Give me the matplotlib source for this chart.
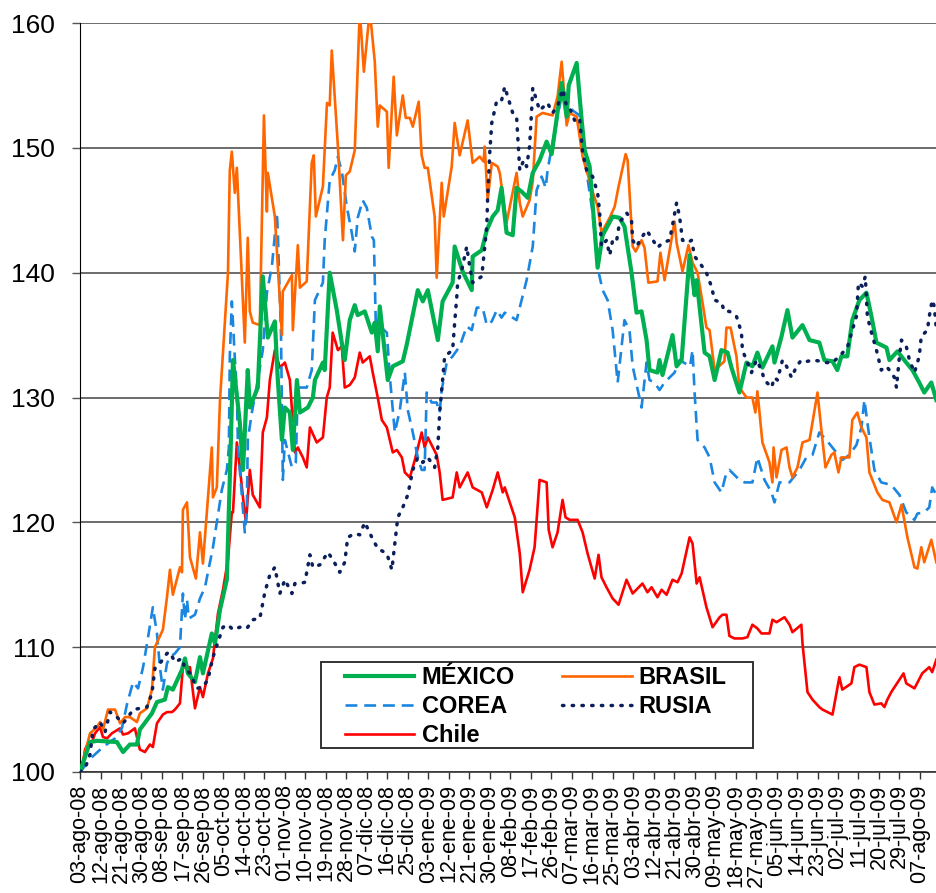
import matplotlib.pyplot as plt
from matplotlib.patches import Rectangle
import numpy as np

plt.rcParams['font.family'] = ['Liberation Sans', 'DejaVu Sans']

# day offsets from 03-ago-08, index level
mexico = [
    (0, 100), (4.4, 102.4), (7.5, 102.5), (16.2, 102.4), (18.9, 101.6), (21.9, 102.2), (25, 102.2),
    (26.3, 103.4), (31.6, 104.7), (33.8, 105.6), (37.3, 105.8), (38.6, 106.8), (40.8, 106.6),
    (44.8, 108.2), (46.1, 109.1), (47.4, 107.9), (50.5, 107.2), (52.7, 109.2), (54, 107.9),
    (57.9, 111.1), (59.3, 110.3), (61.5, 113), (64.5, 115.4), (65.4, 121), (66.2, 126), (67.2, 133),
    (70.2, 128), (71.6, 124.2), (73.7, 132.2), (74.6, 129.2), (78.1, 130.8), (80.3, 139.7),
    (82.5, 134.8), (85.6, 136.1), (86.9, 131.4), (88.7, 126.6), (90, 129.2), (92.2, 128.8),
    (93.5, 125.8), (95.3, 131.4), (96.6, 128.8), (100.1, 129.2), (102.3, 130), (103.2, 131.4),
    (106.7, 132.8), (107.5, 132.2), (109.7, 140), (112.8, 137), (115.5, 133.8), (116.3, 133),
    (118.5, 136.2), (120.7, 137.4), (122, 136.6), (125.1, 136.9), (128.2, 135.2), (129.5, 136),
    (130.8, 133.7), (131.7, 137.3), (135.2, 131.4), (137.4, 132.5), (141.8, 132.9), (143.5, 134.2),
    (148.4, 138.6), (150.6, 137.7), (152.8, 138.6), (157.2, 134.6), (159.3, 137.7), (163.7, 139.2),
    (164.6, 142.1), (168.1, 140.1), (172.1, 138.6), (172.5, 141.3), (176.5, 141.8), (178.7, 143.4),
    (181.3, 144.5), (183.5, 145), (185.2, 146.8), (187.4, 143.2), (190.1, 143), (191.8, 146.8),
    (194, 146.5), (196.7, 146), (198.9, 148), (201.9, 149), (205, 150.5), (207.2, 149.5),
    (208.5, 151.2), (211.6, 155.2), (213.8, 152.5), (214.7, 155), (218.2, 156.8), (220.4, 152.2),
    (221.7, 149.8), (223.9, 148.5), (227.4, 140.4), (229.6, 143), (234, 144.5), (237, 144.4),
    (239.2, 143.7), (242.3, 140), (244.5, 136.8), (246.7, 136.9), (248.9, 134.6), (250.2, 132.2),
    (253.7, 132), (254.6, 133), (255.9, 131.8), (260.3, 135), (262.1, 132.5), (264.3, 133),
    (267.8, 141.4), (270, 138.2), (270.9, 139.4), (274.4, 133.6), (276.6, 133.3), (278.8, 131.4),
    (281.8, 133.8), (284.5, 133.6), (286.2, 132.4), (289.7, 130.4), (292.8, 132.8), (295.4, 132.5),
    (297.6, 133.6), (299.8, 132.4), (304.2, 134.1), (305.1, 132.8), (308.2, 134.9), (310.8, 137),
    (313, 134.8), (317.4, 135.8), (320.5, 134.6), (324.8, 134.4), (327, 133), (330.6, 132.9),
    (332.7, 132.2), (334.5, 133.3), (337.1, 133.3), (339.3, 136.2), (342.4, 137.8), (345.5, 138.4),
    (347.7, 136.5), (349.9, 134.4), (354.3, 134), (355.6, 133), (359.1, 133.7), (363, 132.8),
    (365.7, 132.2), (368.7, 131.2), (370.9, 130.4), (374, 131.2), (376.2, 129.8),
]

brasil = [
    (0, 100), (4.4, 103.1), (7.5, 103.6), (8.8, 104), (10.1, 103.4), (12.3, 105), (15.4, 105),
    (17.6, 103.9), (19.8, 104.4), (21.9, 104.4), (25, 104), (26.3, 104.7), (29.4, 105.1),
    (31.6, 106.6), (32.9, 110), (36.4, 111.4), (38.2, 114), (39.5, 116.2), (40.8, 114.2),
    (43.9, 116.4), (44.8, 116), (45.2, 121), (47, 121.6), (48.3, 117.2), (50.9, 115.5),
    (52.7, 119.2), (54, 116.7), (57.9, 126), (58.4, 122), (60.1, 122.8), (61.5, 129.8), (65, 140),
    (65.8, 148.2), (66.7, 149.7), (68, 146.4), (68.9, 148.4), (72.4, 134.4), (73.7, 142.8),
    (74.6, 136.9), (75.9, 136), (79, 135.8), (80.8, 152.6), (82.1, 144.9), (82.5, 148),
    (85.6, 144.5), (88.7, 135), (89.1, 138.5), (93.1, 139.8), (93.5, 135.4), (95.7, 142.2),
    (96.6, 138.8), (99.6, 139.3), (101.8, 148.8), (102.7, 149.4), (103.6, 144.5), (106.7, 146.9),
    (108.5, 153.6), (109.7, 153.4), (110.6, 157.8), (113.3, 150.1), (115.5, 142.6), (116.8, 147.8),
    (118.5, 148.1), (120.7, 149.8), (122.9, 161), (124.7, 156.1), (127.3, 161), (129.5, 156.9),
    (130.8, 151.7), (131.7, 153.4), (134.8, 152.9), (135.6, 148.4), (137.8, 155.7), (139.2, 151),
    (141.8, 154.2), (143.1, 152.4), (144.9, 152.4), (146.2, 151.7), (148.8, 153.7), (150.1, 149.4),
    (151.4, 148.4), (152.8, 148.4), (155.8, 144.5), (156.7, 139.6), (158.9, 147.2), (159.8, 144.5),
    (163.3, 148.5), (164.6, 152), (166.8, 149.4), (170.3, 152.2), (172.5, 148.8), (175.6, 149.3),
    (177.3, 148.9), (177.8, 150.1), (179.1, 145.8), (180.9, 148.8), (183.5, 148.5), (184.4, 148),
    (187.4, 144), (191.8, 148), (193.2, 145.6), (194.5, 144.5), (197.5, 145.8), (198.9, 147.3),
    (200.6, 152.5), (203.2, 152.8), (207.6, 152.6), (209.8, 154.1), (211.6, 156.9), (213.8, 151.8),
    (215.1, 152.8), (218.2, 152.5), (220.8, 149.3), (225.2, 146.5), (227.4, 145.3), (229.1, 143.2),
    (232.7, 144.4), (234.9, 145.3), (236.6, 146.9), (239.7, 149.5), (240.6, 149), (242.8, 142.1),
    (244.1, 141.7), (246.7, 142.6), (248, 142), (249.7, 139.2), (253.7, 139.3), (255, 141.6),
    (256.8, 139.4), (261.2, 144.1), (262.1, 142.4), (264.7, 140.1), (267.3, 142.2), (269.1, 140.8),
    (271.3, 140), (273.5, 137.6), (275.2, 135.6), (276.6, 135.4), (278.8, 132.2), (283.1, 132.9),
    (284, 135.6), (285.8, 135.6), (288.4, 133.3), (289.7, 130.8), (292.8, 130), (295.4, 130),
    (296.7, 128.8), (297.6, 130.5), (299.8, 126.4), (302.9, 124.8), (304.2, 123.2), (304.7, 126),
    (306, 123.6), (308.2, 125.8), (310.4, 126), (311.7, 124.4), (313, 123.6), (315.2, 124.4),
    (317.4, 126.4), (320.5, 126.6), (324, 130.4), (325.7, 127.4), (327.5, 124.4), (330.1, 125.4),
    (331.4, 125.6), (333.2, 124), (334.5, 125.2), (338, 125.2), (339.3, 128.2), (341.5, 128.8),
    (343.3, 127.6), (345.5, 126.8), (346.8, 124), (350.3, 122.4), (352.5, 121.8), (355.6, 121.6),
    (358.7, 120), (360.9, 121.4), (363.5, 118.8), (366.6, 116.4), (367.9, 116.3), (369.6, 118),
    (370.9, 116.8), (374, 118.6), (376.2, 116.8),
]

corea = [
    (0, 100), (5.3, 101.2), (10.1, 102), (15.4, 102.7), (18.4, 103.5), (20.6, 105.4), (23.3, 107.2),
    (25.5, 106.7), (27.7, 108.4), (29.9, 110.8), (32, 113.2), (33.8, 111.1), (35.1, 108.4),
    (36.4, 106.6), (38.2, 108.7), (39.5, 109.2), (41.7, 109.5), (43.9, 110), (45.2, 114.3),
    (46.1, 112.2), (47, 113.8), (47.8, 112.3), (50.5, 112.6), (52.7, 113.9), (54.9, 114.8),
    (56.2, 116), (58.4, 118), (60.1, 120), (62.3, 122.6), (64.5, 124.2), (65.4, 126), (65.8, 133.3),
    (66.7, 137.7), (68, 133.2), (68.9, 130.4), (69.4, 126), (72.4, 119.2), (73.3, 121.2),
    (73.7, 126.6), (75.5, 128.8), (78.1, 131.4), (80.3, 133.8), (82.1, 138.4), (84.3, 140.5),
    (86.5, 144.8), (86.9, 143.2), (88.3, 135), (89.1, 123.4), (90, 126.6), (93.1, 124.4),
    (94.8, 124.8), (95.7, 130.8), (99.6, 130.8), (101.8, 132.2), (103.2, 137.8), (106.7, 139.2),
    (107.5, 142.6), (109.7, 147.4), (111.9, 148.2), (113.3, 149.3), (115.1, 148), (117.2, 145.3),
    (119.4, 143.2), (120.7, 141.7), (122, 144.4), (124.2, 145.8), (126, 145.2), (128.2, 142.9),
    (129.1, 142.6), (129.9, 136.2), (131.7, 135.7), (134.8, 135.2), (136.1, 131.7), (138.3, 127.2),
    (140.5, 129), (142.7, 132), (144, 129), (146.2, 127.2), (148.4, 125.2), (150.1, 124.2),
    (151.4, 124.2), (152.3, 130.4), (154.5, 129.6), (156.7, 129.6), (158, 128.8), (158.9, 130.6),
    (161.1, 132.8), (163.7, 133.3), (166.8, 134.1), (169.9, 135.7), (172.1, 135.4), (174.3, 137.2),
    (176.9, 137.2), (178.7, 135.8), (180.9, 136.1), (183.1, 137), (185.2, 136.4), (186.6, 136.8),
    (191.8, 136.2), (194, 137.8), (196.2, 139.4), (198.9, 142.1), (200.6, 146.6), (202.8, 147.7),
    (204.6, 146.8), (205.4, 148.2), (207.6, 150.4), (209.8, 152.5), (211.6, 154.2), (212.9, 154.5),
    (214.2, 153.8), (216.4, 153), (219.5, 152.6), (220.8, 150.4), (222.6, 148), (225.2, 144.8),
    (227.4, 140.4), (229.6, 138.6), (231.8, 137.8), (234, 135.4), (236.2, 131.2), (239.2, 136.2),
    (241.4, 135.4), (242.8, 132.5), (246.7, 129.2), (248.9, 132.8), (250.2, 131.4), (252.4, 131.2),
    (254.6, 130.6), (256.8, 131.2), (261.2, 132), (263.4, 133), (268, 132.5), (269.1, 133.8),
    (270, 130.4), (271.3, 126.6), (274.4, 126), (276.6, 125.2), (278.8, 123.2), (281.8, 122.4),
    (284, 124), (285.3, 124.2), (289.7, 123.4), (292, 123.2), (295.4, 123.2), (297.6, 125.2),
    (300.7, 123.4), (303.8, 122.4), (305.1, 121.6), (307.3, 123.2), (311.7, 123.2), (316.1, 124.2),
    (319.1, 125.2), (321.8, 125.4), (324.8, 127.2), (327.9, 126.6), (332.3, 125.6), (334.9, 125),
    (338, 125.4), (341.1, 126.2), (343.3, 127.6), (344.6, 129.8), (346.8, 126.8), (349, 124.2),
    (352, 123.2), (356.4, 123), (360, 122.2), (363, 120.8), (366.6, 120.2), (367.9, 120.7),
    (370.9, 120.8), (373.1, 121.2), (374.4, 122.8), (376.2, 122.2),
]

rusia = [
    (0, 100), (2.2, 100.3), (4.4, 101.4), (5.7, 103.4), (8.8, 104), (11, 103.2), (13.2, 104.8),
    (16.2, 104.4), (18.9, 103.9), (21.1, 104.4), (23.3, 105), (26.3, 105.1), (29.4, 105.2),
    (31.6, 106.3), (32.9, 108.3), (35.1, 108.7), (38.2, 109.5), (39.5, 109.6), (41.7, 108.8),
    (44.8, 109.1), (46.1, 108.3), (48.3, 107.9), (51.4, 106.7), (54, 106.8), (56.2, 107.4),
    (58.4, 109.2), (60.6, 110.4), (62.8, 111.6), (65, 111.8), (67.2, 111.4), (70.2, 111.6),
    (73.3, 111.5), (75.9, 112.2), (79, 112.3), (81.2, 114.4), (83.4, 115.8), (85.6, 116.4),
    (87.8, 114.3), (90, 115.4), (93.1, 114.3), (94.4, 115.1), (96.6, 115.1), (98.8, 115.2),
    (101, 117.4), (102.3, 116.4), (105.4, 116.6), (108.9, 117.6), (111.1, 117), (114.1, 116),
    (116.3, 116.8), (117.6, 118.8), (120.7, 119.1), (122.9, 119), (125.1, 120), (128.2, 118.8),
    (130.8, 117.9), (134.8, 117.5), (137, 116.2), (138.3, 118.3), (139.6, 120.4), (141.8, 121.2),
    (144, 122.2), (146.2, 124.2), (148.4, 125.2), (150.6, 124.8), (152.8, 125.2), (155.8, 124.4),
    (157.2, 126), (158, 128.8), (159.3, 131.4), (160.2, 133.3), (163.7, 133.8), (164.6, 136),
    (165.5, 138), (165.9, 139.2), (167.7, 140.2), (169.9, 142.1), (171.2, 140.5), (172.5, 139.2),
    (176.5, 139.7), (178.7, 143.7), (179.1, 146.1), (180, 149.6), (180.9, 152), (183.1, 153.8),
    (185.2, 153.8), (186.6, 154.9), (187.9, 154.1), (190.1, 152.8), (191.8, 152.5), (192.3, 150.9),
    (193.2, 148.2), (194.9, 149), (196.2, 148.5), (197.5, 150.1), (198.4, 153), (198.9, 154.8),
    (200.6, 153.8), (201.9, 153), (205.4, 153.6), (207.6, 152.8), (209.8, 153.3), (212, 154.7),
    (213.8, 153.3), (215.1, 153.2), (217.3, 152.2), (219.5, 152.4), (220.8, 149.6), (222.6, 148.2),
    (225.2, 147.7), (227.4, 146.4), (228.3, 144.8), (229.1, 142.1), (231.3, 142.6), (232.7, 141.4),
    (234, 142.6), (235.7, 142.5), (237, 144), (240.1, 144.8), (242.3, 144.2), (242.8, 142.6),
    (244.5, 142.1), (246.7, 142.8), (248.9, 143.4), (251.1, 142.8), (253.7, 142), (255.9, 142.4),
    (259, 142.6), (260.3, 143.8), (262.1, 145.6), (263.4, 144.5), (264.7, 142.6), (266.9, 142.4),
    (268.7, 142.6), (270, 141.3), (272.2, 140.8), (275.2, 140), (277.4, 138.9), (278.8, 137.8),
    (281.8, 137.6), (283.1, 136.9), (285.3, 136.9), (288.4, 136.5), (290.6, 135.2), (291, 133.8),
    (292.8, 133), (295, 132), (297.2, 133), (299.4, 132.2), (300.7, 131.4), (303.8, 130.8),
    (305.1, 131.6), (306.4, 131.4), (308.6, 133), (310.4, 132.5), (312.6, 131.6), (314.8, 132.5),
    (316.9, 133), (319.6, 132.9), (321.8, 133), (325.7, 132.9), (327.9, 132.8), (330.6, 132.8),
    (333.6, 133.3), (337.1, 134), (339.3, 135.4), (341.1, 136.5), (342, 139.2), (343.7, 138.9),
    (345, 139.7), (345.9, 136.5), (347.7, 135.2), (349.9, 133.8), (352, 132.2), (354.3, 132.5),
    (356.4, 132), (357.8, 131.6), (358.7, 130.8), (360, 133.3), (360.9, 134.6), (363, 134.1),
    (364.4, 133), (366.6, 132), (368.7, 133.3), (369.6, 134.9), (372.3, 135.4), (373.1, 136.5),
    (374.4, 137.8), (375.3, 137.3), (376.2, 135.5),
]

chile = [
    (0, 100), (0.9, 100.2), (2.2, 101.8), (3.5, 102.3), (5.3, 102.4), (6.6, 103.1), (8.8, 103.6),
    (10.1, 102.8), (11.9, 102.7), (14, 103.1), (17.6, 103.5), (18.9, 103), (21.1, 103.1),
    (24.1, 103.5), (26.3, 101.8), (28.5, 101.6), (30.7, 102.2), (32, 102), (33.8, 103.9),
    (36.4, 104.6), (38.2, 104.8), (40.4, 104.8), (41.7, 105), (43.9, 105.5), (45.2, 108.4),
    (48.3, 108.4), (50.5, 105.1), (52.7, 106.8), (54, 106), (56.2, 107.9), (58.4, 109.1),
    (60.6, 112.7), (62.8, 114.6), (65, 117), (66.7, 120.8), (67.2, 120.8), (68.9, 126.4),
    (70.2, 124.4), (71.6, 122), (72.9, 120), (74.6, 124.2), (75.9, 122.2), (79, 121.2),
    (80.3, 127.2), (82.1, 128.4), (83.4, 131.4), (85.6, 133.8), (87.8, 132.4), (90, 132.8),
    (92.2, 131.4), (94.4, 125.6), (95.7, 126), (97.9, 125.2), (99.6, 124.4), (101, 127.6),
    (104, 126.4), (106.7, 126.8), (108.4, 130), (109.7, 130.8), (111, 135.2), (113.3, 133.8),
    (115, 134.1), (116.3, 130.8), (118.5, 131), (120.7, 131.6), (122.9, 133.6), (124.2, 132.8),
    (127.3, 133.3), (128.6, 132), (130.8, 130), (132.6, 128.2), (134.8, 127.6), (137.4, 125.6),
    (139.2, 125.8), (141.4, 125.2), (142.7, 124), (144.9, 123.6), (147.1, 125), (150.1, 127.2),
    (151.4, 126), (152.8, 126.8), (155, 126), (156.7, 125.4), (158, 124), (159.3, 121.8),
    (163.7, 122), (165.5, 124), (166.8, 122.8), (170.3, 124), (172.5, 122.8), (176.5, 122.4),
    (178.7, 121.2), (181.3, 122.6), (183.5, 124), (185.7, 122.4), (186.6, 122.8), (191, 120.4),
    (193.2, 117.5), (194.5, 114.4), (197.5, 116.2), (199.7, 118), (201.9, 123.4), (205, 123.2),
    (205.9, 119.4), (207.6, 118), (209.8, 119.2), (212, 121.8), (213.3, 120.4), (215.1, 120.2),
    (218.6, 120.2), (220.8, 119.2), (223, 117.5), (226.1, 115.5), (227.8, 117.4), (229.1, 115.6),
    (231.3, 114.8), (234, 113.9), (236.6, 113.4), (240.1, 115.4), (242.8, 114.3), (247.1, 115.1),
    (249.3, 114.4), (251.1, 114.8), (253.7, 114), (255.5, 114.6), (257.7, 114.2), (260.3, 115.4),
    (262.5, 115.2), (264.3, 115.9), (267.8, 118.8), (269.1, 118.3), (270.9, 115.1), (272.2, 115.6),
    (275.2, 113.2), (277.9, 111.6), (281, 112.4), (282.3, 112.6), (284, 112.6), (285.3, 110.9),
    (287.5, 110.7), (291, 110.7), (293.2, 110.8), (295.4, 111.8), (297.6, 111.5), (299.4, 111.1),
    (302.9, 111.1), (304.2, 112.2), (306, 112), (309.5, 112.4), (311.7, 111.8), (313, 111.2),
    (316.9, 111.8), (317.4, 110.3), (319.6, 106.4), (321.8, 105.8), (324.8, 105.2), (326.2, 105),
    (330.6, 104.6), (333.6, 107.6), (334.9, 106.6), (338.9, 107.1), (340.2, 108.4), (342.4, 108.6),
    (345.5, 108.4), (346.8, 106.4), (349, 105.4), (352, 105.5), (353.4, 105.2), (354.7, 105.8),
    (356.4, 106.4), (360, 107.4), (361.8, 107.9), (363, 107.1), (366.6, 106.7), (370, 107.9),
    (373.1, 108.4), (374.4, 108), (376.2, 109),
]

tick_labels = [
    '03-ago-08', '12-ago-08', '21-ago-08', '30-ago-08', '08-sep-08', '17-sep-08', '26-sep-08',
    '05-oct-08', '14-oct-08', '23-oct-08', '01-nov-08', '10-nov-08', '19-nov-08', '28-nov-08',
    '07-dic-08', '16-dic-08', '25-dic-08', '03-ene-09', '12-ene-09', '21-ene-09', '30-ene-09',
    '08-feb-09', '17-feb-09', '26-feb-09', '07-mar-09', '16-mar-09', '25-mar-09', '03-abr-09',
    '12-abr-09', '21-abr-09', '30-abr-09', '09-may-09', '18-may-09', '27-may-09', '05-jun-09',
    '14-jun-09', '23-jun-09', '02-jul-09', '11-jul-09', '20-jul-09', '29-jul-09', '07-ago-09',
]
tick_step = 9


def xy(series):
    arr = np.array(series, dtype=float)
    return arr[:, 0], arr[:, 1]


fig = plt.figure(figsize=(9.37, 8.93), dpi=100)
ax = fig.add_axes([0.0854, 0.1355, 0.9146, 0.8387])

l_chile, = ax.plot(*xy(chile), color='#FF0000', lw=1.9, label='Chile', zorder=3)
l_corea, = ax.plot(*xy(corea), color='#1A86E0', lw=1.9, ls=(0, (4.5, 2.6)), label='COREA', zorder=4)
l_brasil, = ax.plot(*xy(brasil), color='#FF6600', lw=1.9, label='BRASIL', zorder=5)
l_mexico, = ax.plot(*xy(mexico), color='#00B050', lw=3.0, label='MÉXICO', zorder=6)
l_rusia, = ax.plot(*xy(rusia), color='#0B1F5B', lw=2.5, ls=(0, (0.4, 2.4)),
                   dash_capstyle='round', label='RUSIA', zorder=7)

ax.set_ylim(100, 160)
ax.set_xlim(0, 376.5)
ax.set_yticks(np.arange(100, 161, 10))
ax.set_xticks(np.arange(len(tick_labels)) * tick_step)
ax.set_xticklabels(tick_labels, rotation=90)
ax.tick_params(axis='y', labelsize=19, length=6, width=1, color='#555555', pad=12)
ax.tick_params(axis='x', labelsize=15.5, length=5, width=1, color='#333333', pad=4)
ax.grid(axis='y', color='#444444', lw=1.1)
ax.set_axisbelow(True)
for s in ('top', 'right'):
    ax.spines[s].set_visible(False)
ax.spines['left'].set_color('black')
ax.spines['bottom'].set_color('#333333')
ax.spines['bottom'].set_linewidth(1.2)

# legend box drawn separately (Excel style padding)
ax.add_patch(Rectangle((0.2812, 0.032), 0.5041, 0.1149, transform=ax.transAxes,
                       facecolor='white', edgecolor='#333333', lw=1.4, zorder=8))
leg = ax.legend(handles=[l_mexico, l_corea, l_chile, l_brasil, l_rusia], ncol=2,
                loc='upper left', bbox_to_anchor=(0.309, 0.1415), frameon=False,
                handlelength=2.95, handletextpad=0.3, columnspacing=2.0,
                labelspacing=0.26, borderpad=0.0, borderaxespad=0.0,
                prop={'weight': 'bold', 'size': 17})
leg.set_zorder(9)

fig.savefig('out.png', dpi=100)
